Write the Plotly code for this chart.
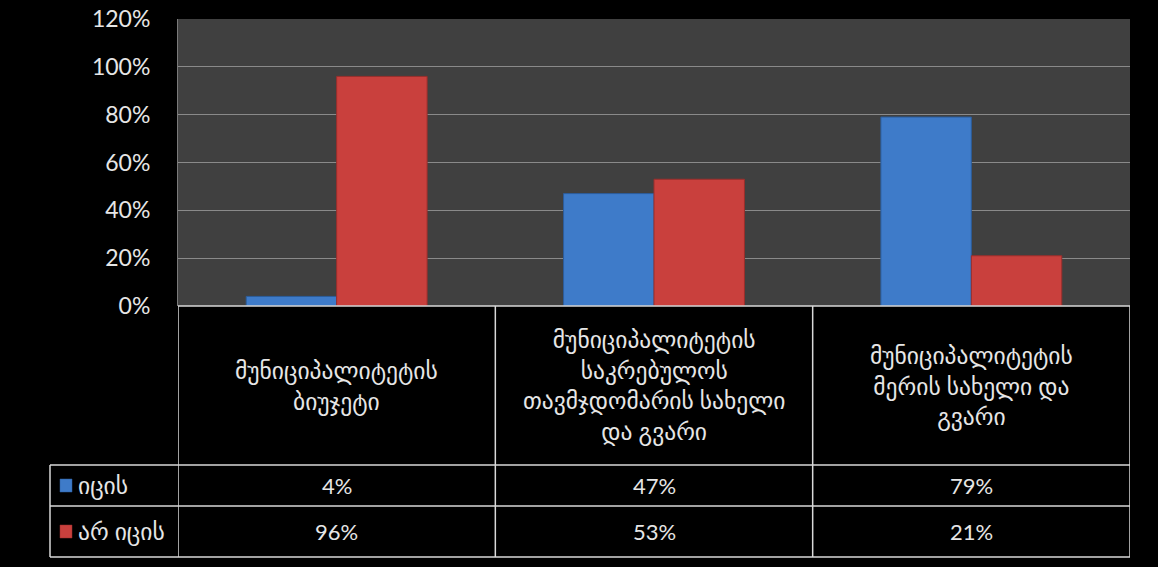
import plotly.graph_objects as go

categories = [
    "მუნიციპალიტეტის<br>ბიუჯეტი",
    "მუნიციპალიტეტის<br>საკრებულოს<br>თავმჯდომარის სახელი<br>და გვარი",
    "მუნიციპალიტეტის<br>მერის სახელი და<br>გვარი",
]
series_names = ["იცის", "არ იცის"]
knows = [4, 47, 79]
not_knows = [96, 53, 21]
y_ticks = [0, 20, 40, 60, 80, 100, 120]
y_tick_labels = [f"{t}%" for t in y_ticks]

BLUE = "#3e7bc9"
BLUE_EDGE = "#2c5d9c"
RED = "#c9403d"
RED_EDGE = "#9a2e2c"
TXT = "#e6e6e6"
LINE = "#d9d9d9"
FONT = "Lato, DejaVu Sans, sans-serif"

W, H = 1158, 567
ML, MR, MT, MB = 178, 28, 19, 261
PH = H - MT - MB
PW = W - ML - MR


def py(pix):
    return (H - MB - pix) / PH


def px(pix):
    return (pix - ML) / PW


x_idx = list(range(len(categories)))

fig = go.Figure()
fig.add_trace(go.Bar(x=x_idx, y=knows, name=series_names[0],
                     marker=dict(color=BLUE, line=dict(color=BLUE_EDGE, width=1)),
                     showlegend=False))
fig.add_trace(go.Bar(x=x_idx, y=not_knows, name=series_names[1],
                     marker=dict(color=RED, line=dict(color=RED_EDGE, width=1)),
                     showlegend=False))

shapes = []
annotations = []

y_top = 0
y_head = py(465)
y_r1 = py(506)
y_r2 = py(557)
x_leg = px(50)
n = len(categories)
lw = 1.5

# horizontal table lines
shapes.append(dict(type="line", xref="x", yref="paper", x0=-0.5, x1=n - 0.5, y0=y_top, y1=y_top,
                   line=dict(color=LINE, width=lw)))
for yy in (y_head, y_r1, y_r2):
    shapes.append(dict(type="line", xref="paper", yref="paper", x0=x_leg, x1=1, y0=yy, y1=yy,
                       line=dict(color=LINE, width=lw)))
# vertical table lines
for b in range(n + 1):
    shapes.append(dict(type="line", xref="x", yref="paper", x0=b - 0.5, x1=b - 0.5, y0=y_top, y1=y_r2,
                       line=dict(color=LINE, width=lw)))
shapes.append(dict(type="line", xref="paper", yref="paper", x0=x_leg, x1=x_leg, y0=y_head, y1=y_r2,
                   line=dict(color=LINE, width=lw)))

# header texts
for i, c in enumerate(categories):
    annotations.append(dict(x=i, y=(y_top + y_head) / 2, xref="x", yref="paper", text=c,
                            showarrow=False, font=dict(family=FONT, size=23.5, color=TXT),
                            align="center", xanchor="center", yanchor="middle"))
# values rows
row_centers = [(y_head + y_r1) / 2, (y_r1 + y_r2) / 2]
for vals, yc in zip([knows, not_knows], row_centers):
    for i, v in enumerate(vals):
        annotations.append(dict(x=i, y=yc, xref="x", yref="paper", text=f"{v}%",
                                showarrow=False, font=dict(family=FONT, size=22, color=TXT),
                                xanchor="center", yanchor="middle"))
# legend column
for name, col, edge, yc in zip(series_names, [BLUE, RED], [BLUE_EDGE, RED_EDGE], row_centers):
    hpx = 6.5 / PH
    shapes.append(dict(type="rect", xref="paper", yref="paper", x0=px(60), x1=px(72),
                       y0=yc - hpx, y1=yc + hpx, fillcolor=col, line=dict(color=edge, width=0.5)))
    annotations.append(dict(x=px(76), y=yc, xref="paper", yref="paper", text=name,
                            showarrow=False, font=dict(family=FONT, size=23.5, color=TXT),
                            xanchor="left", yanchor="middle"))

fig.update_layout(
    width=W, height=H,
    margin=dict(l=ML, r=MR, t=MT, b=MB),
    paper_bgcolor="#000000",
    plot_bgcolor="#404040",
    barmode="group",
    bargap=0.43,
    bargroupgap=0,
    shapes=shapes,
    annotations=annotations,
    xaxis=dict(range=[-0.5, n - 0.5], showticklabels=False, showgrid=False, zeroline=False,
               showline=False, fixedrange=True, automargin=False),
    yaxis=dict(range=[0, 120], tickvals=y_ticks, ticktext=y_tick_labels,
               showgrid=True, gridcolor="#8a8a8a", gridwidth=1, zeroline=False,
               showline=True, linecolor="#7a7a7a", linewidth=1, ticks="",
               ticklabelstandoff=22, automargin=False,
               tickfont=dict(family=FONT, size=23, color=TXT)),
    font=dict(family=FONT, color=TXT),
)

fig.write_html(
    "out.html",
    config={"displayModeBar": False},
    post_script="document.body.style.margin='0';document.body.style.background='#000';"
                "document.documentElement.style.background='#000';",
)
